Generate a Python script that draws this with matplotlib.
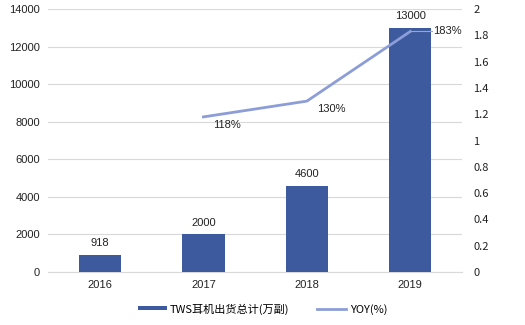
import matplotlib
matplotlib.use("Agg")
import matplotlib.pyplot as plt
import numpy as np

years = ["2016", "2017", "2018", "2019"]
shipments = [918, 2000, 4600, 13000]
yoy_years = ["2017", "2018", "2019"]
yoy = [1.18, 1.30, 1.83]
yoy_labels = ["118%", "130%", "183%"]

bar_color = "#3D5A9F"
line_color = "#8C9DD8"
grid_color = "#D9D9D9"
cjk = ["Noto Sans CJK SC", "DejaVu Sans"]

fig = plt.figure(figsize=(5.25, 3.25), dpi=100)
ax = fig.add_axes([0.092, 0.163, 0.788, 0.809])
x = np.arange(len(years))
bars = ax.bar(x, shipments, width=0.41, color=bar_color, zorder=3,
              label="TWS耳机出货总计(万副)")
for xi, v in zip(x, shipments):
    ax.text(xi, v + 350, str(v), ha="center", va="bottom", fontsize=8,
            family="Liberation Sans", color="#222222")

ax.set_ylim(0, 14000)
ax.set_yticks(np.arange(0, 14001, 2000))
ax.set_xlim(-0.5, 3.5)
ax.set_xticks(x)
ax.set_xticklabels(years)
ax.grid(axis="y", color=grid_color, linewidth=0.8, zorder=0)
for s in ["top", "right", "left"]:
    ax.spines[s].set_visible(False)
ax.spines["bottom"].set_color(grid_color)
ax.tick_params(axis="both", length=0, labelsize=8, colors="#222222", pad=6)
for lbl in ax.get_xticklabels() + ax.get_yticklabels():
    lbl.set_family("Liberation Sans")

ax2 = ax.twinx()
xl = [years.index(y) for y in yoy_years]
line, = ax2.plot(xl, yoy, color=line_color, linewidth=2, zorder=4,
                 label="YOY(%)")
ax2.set_ylim(0, 2)
ax2.set_yticks(np.arange(0, 2.01, 0.2))
ax2.set_yticklabels(["0"] + ["%g" % v for v in np.arange(0.2, 2.01, 0.2)])
for s in ["top", "right", "left", "bottom"]:
    ax2.spines[s].set_visible(False)
ax2.tick_params(axis="y", length=0, labelsize=8, colors="#222222", pad=8)
for lbl in ax2.get_yticklabels():
    lbl.set_family(cjk)

offsets = [(0.09, -0.02), (0.1, -0.02), (0.22, 0.0)]
for xi, v, t, (dx, dy) in zip(xl, yoy, yoy_labels, offsets):
    ax2.text(xi + dx, v + dy, t, ha="left", va="top" if dy < 0 else "center",
             fontsize=8, family="Liberation Sans", color="#222222", zorder=5)

# leader line from the last point to its label
ax2.plot([xl[-1], xl[-1] + 0.21], [yoy[-1], yoy[-1]], color="#A6A6A6",
         linewidth=0.8, zorder=5)

handles = [bars, line]
leg = fig.legend(handles, [h.get_label() for h in handles], loc="lower center",
                 bbox_to_anchor=(0.5, 0.0), ncol=2, frameon=False,
                 prop={"family": cjk, "size": 8, "weight": "medium"},
                 handlelength=2.6, columnspacing=2.5, handletextpad=0.3)
for h in leg.legend_handles:
    if hasattr(h, "set_height"):
        h.set_height(3)
        h.set_y(2)

fig.savefig("out.png", dpi=100)
